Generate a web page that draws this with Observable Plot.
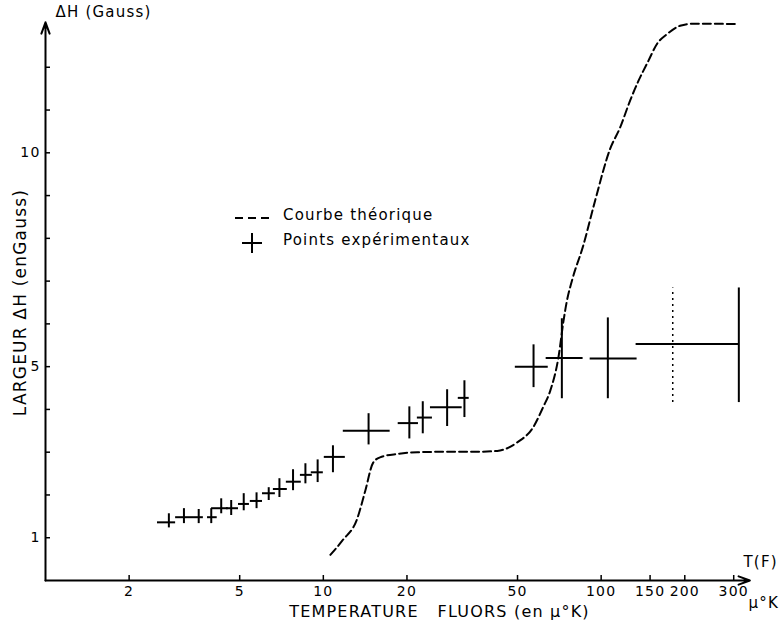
<!DOCTYPE html>
<html><head><meta charset="utf-8">
<script src="https://cdn.jsdelivr.net/npm/d3@7"></script>
<script src="https://cdn.jsdelivr.net/npm/@observablehq/plot@0.6"></script>
<style>
body{margin:0;background:#fff;}
#wrap{position:relative;width:779px;height:621px;font-family:"DejaVu Sans",sans-serif;}
#wrap svg text{letter-spacing:1.2px;}
#legend{position:absolute;left:228px;top:200px;}
</style></head>
<body><div id="wrap"></div>
<script>
// Experimental points: temperature (µK) with horizontal extent, line width ΔH (Gauss) with vertical extent
const T    = [2.78, 3.15, 3.56, 3.95, 4.29, 4.66, 5.17, 5.75, 6.36, 6.95, 7.78, 8.62, 9.54, 10.83, 14.55, 20.4, 22.8, 27.9, 32.2, 57.1, 72.2, 105.7, 181];
const Tlo  = [2.53, 2.94, 3.41, 3.83, 3.96, 4.48, 4.95, 5.46, 6.04, 6.61, 7.36, 8.27, 9.05, 10.08, 11.8, 18.6, 21.8, 24.3, 30.6, 49.1, 63.4, 91.3, 133.6];
const Thi  = [2.94, 3.41, 3.70, 4.15, 4.55, 4.95, 5.42, 6.04, 6.72, 7.42, 8.33, 9.13, 10.0, 12.0, 17.4, 22.0, 24.7, 31.6, 33.5, 64.5, 86.1, 134.7, 313];
const dH   = [1.36, 1.48, 1.48, 1.48, 1.69, 1.69, 1.79, 1.86, 2.04, 2.14, 2.31, 2.47, 2.53, 2.89, 3.50, 3.68, 3.81, 4.05, 4.27, 5.00, 5.20, 5.19, 5.53];
const dHlo = [1.23, 1.33, 1.33, 1.33, 1.56, 1.52, 1.63, 1.68, 1.87, 1.94, 2.10, 2.26, 2.29, 2.52, 3.17, 3.31, 3.43, 3.60, 3.81, 4.51, 4.25, 4.25, 4.16];
const dHhi = [1.56, 1.68, 1.66, 1.68, 1.91, 1.87, 2.03, 2.05, 2.17, 2.38, 2.59, 2.73, 2.82, 3.15, 3.90, 4.06, 4.18, 4.46, 4.67, 5.51, 6.12, 6.14, 6.84];

// Theoretical curve
const thT = [10.6, 11.7, 13.25, 14.16, 15.1, 16.0, 18.5, 21.8, 28.6, 35.8, 42.3, 49.9, 56.9, 61.8, 65.6, 70.2, 73.2, 75.3, 78.5, 86.2, 95.1, 107.7, 117.0, 127.1, 136.2, 147.9, 158.6, 172.3, 192.3, 214.8, 307.6];
const thH = [0.6, 0.93, 1.45, 2.10, 2.75, 2.88, 2.96, 3.00, 3.01, 3.01, 3.03, 3.23, 3.58, 4.05, 4.44, 5.22, 6.07, 6.54, 7.01, 7.83, 8.88, 10.09, 10.59, 11.22, 11.68, 12.15, 12.54, 12.77, 12.97, 13.02, 13.01];

// Axes
const xTicks = [2, 5, 10, 20, 50, 100, 150, 200, 300];
const yTicks = [1, 2, 3, 4, 5, 6, 7, 8, 9, 10, 11, 12];
const yLabels = [1, 5, 10];
const xDomain = [1, 320];
const yDomain = [0, 13];
const xAxisEnd = [343];
const yAxisEnd = [13.05];

const pts = T.map((t, i) => ({T: t, Tlo: Tlo[i], Thi: Thi[i], dH: dH[i], dHlo: dHlo[i], dHhi: dHhi[i]}));
const theory = thT.map((t, i) => ({T: t, H: thH[i]}));
const last = pts.slice(-1);
const rest = pts.slice(0, -1);

const chart = Plot.plot({
  width: 779, height: 621,
  marginLeft: 45, marginRight: 38, marginTop: 24, marginBottom: 41,
  x: {type: "log", domain: xDomain, axis: null},
  y: {domain: yDomain, axis: null},
  style: {fontFamily: "DejaVu Sans", background: "white", color: "black"},
  marks: [
    // inward tick marks
    Plot.ruleX(xTicks, {x: d => d, y1: yDomain[0], y2: yDomain[0], insetBottom: 5, strokeWidth: 1.5}),
    Plot.ruleY(yTicks, {y: d => d, x1: xDomain[0], x2: xDomain[0], insetRight: -5, strokeWidth: 1.5}),
    Plot.text(xTicks, {x: d => d, y: yDomain[0], dy: 11, text: d => String(d), fontSize: 14, lineAnchor: "middle", textAnchor: "middle"}),
    Plot.text(yLabels, {x: xDomain[0], y: d => d, dx: -5, text: d => String(d), fontSize: 14, lineAnchor: "middle", textAnchor: "end"}),
    Plot.arrow(xAxisEnd, {x1: xDomain[0], x2: d => d, y1: 0, y2: 0, strokeWidth: 2, headLength: 9, headAngle: 40}),
    Plot.arrow(yAxisEnd, {x1: xDomain[0], x2: xDomain[0], y1: 0, y2: d => d, strokeWidth: 2, headLength: 9, headAngle: 40}),
    Plot.line(theory, {x: "T", y: "H", curve: "monotone-x", strokeWidth: 2, strokeDasharray: "8,4"}),
    Plot.ruleY(pts, {y: "dH", x1: "Tlo", x2: "Thi", strokeWidth: 2}),
    Plot.ruleX(rest, {x: "T", y1: "dHlo", y2: "dHhi", strokeWidth: 2}),
    Plot.ruleX(last, {x: "T", y1: "dHlo", y2: "dHhi", strokeWidth: 1.5, strokeDasharray: "2,4"}),
    Plot.ruleX(last, {x: "Thi", y1: "dHlo", y2: "dHhi", strokeWidth: 2}),
    Plot.text(["ΔH (Gauss)"], {frameAnchor: "top-left", dx: 10, dy: -12, textAnchor: "start", lineAnchor: "middle", fontSize: 15}),
    Plot.text(["LARGEUR ΔH (enGauss)"], {frameAnchor: "left", dx: -25, dy: 0, rotate: -90, textAnchor: "middle", lineAnchor: "middle", fontSize: 17}),
    Plot.text(["TEMPERATURE   FLUORS (en µ°K)"], {frameAnchor: "bottom", dx: 46, dy: 31, textAnchor: "middle", lineAnchor: "middle", fontSize: 16}),
    Plot.text(["T(F)"], {frameAnchor: "bottom-right", dx: 2, dy: -18, textAnchor: "start", lineAnchor: "middle", fontSize: 15}),
    Plot.text(["µ°K"], {frameAnchor: "bottom-right", dx: 7, dy: 23, textAnchor: "start", lineAnchor: "middle", fontSize: 15})
  ]
});
const wrap = document.getElementById("wrap");
wrap.appendChild(chart);

// Legend
const leg = d3.select(wrap).append("svg").attr("id", "legend").attr("width", 270).attr("height", 60)
  .style("font-family", "DejaVu Sans").style("font-size", "15px");
leg.append("line").attr("x1", 7).attr("x2", 42).attr("y1", 18).attr("y2", 18)
  .attr("stroke", "black").attr("stroke-width", 2).attr("stroke-dasharray", "8,5");
leg.append("text").attr("x", 55).attr("y", 15).attr("dominant-baseline", "middle").text("Courbe théorique");
leg.append("line").attr("x1", 14).attr("x2", 34).attr("y1", 43).attr("y2", 43).attr("stroke", "black").attr("stroke-width", 2);
leg.append("line").attr("x1", 24).attr("x2", 24).attr("y1", 33).attr("y2", 53).attr("stroke", "black").attr("stroke-width", 2);
leg.append("text").attr("x", 55).attr("y", 40).attr("dominant-baseline", "middle").text("Points expérimentaux");
</script>
</body></html>
